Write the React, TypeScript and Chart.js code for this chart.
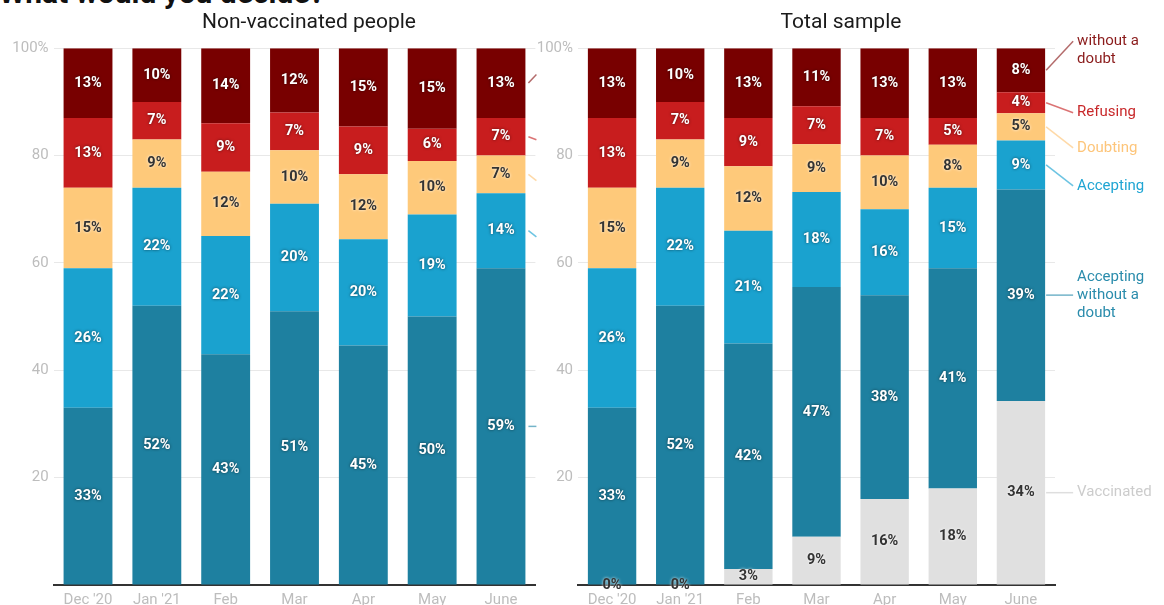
import React, { useEffect, useRef } from "react";
import { Chart, registerables } from "chart.js";

Chart.register(...registerables);

// ---------- data ----------
const months = ["Dec '20", "Jan '21", "Feb", "Mar", "Apr", "May", "June"];
const yTickLabels = ["", "20", "40", "60", "80", "100%"];

// Non-vaccinated people (bottom -> top)
const nvAcceptNoDoubt = [33, 52, 43, 51, 44.6, 50, 59];
const nvAccept = [26, 22, 22, 20, 19.8, 19, 14];
const nvDoubt = [15, 9, 12, 10, 12.1, 10, 7];
const nvRefuse = [13, 7, 9, 7, 8.9, 6, 7];
const nvRefuseNoDoubt = [13, 10, 14, 12, 14.6, 15, 13];

// Total sample (bottom -> top)
const tVaccinated = [0, 0, 3, 9, 16, 18, 34.3];
const tAcceptNoDoubt = [33, 52, 42, 46.5, 38, 41, 39.4];
const tAccept = [26, 22, 21, 17.7, 16, 15, 9.1];
const tDoubt = [15, 9, 12, 8.9, 10, 8, 5.1];
const tRefuse = [13, 7, 9, 7.1, 7, 5, 3.9];
const tRefuseNoDoubt = [13, 10, 13, 10.8, 13, 13, 8.2];

const seriesNames = {
  vaccinated: "Vaccinated",
  acceptNoDoubt: "Accepting without a doubt",
  accept: "Accepting",
  doubt: "Doubting",
  refuse: "Refusing",
  refuseNoDoubt: "Refusing without a doubt",
};

// ---------- styles ----------
const FONT = "Roboto, 'Noto Sans', Arial, sans-serif";
const colors: Record<string, string> = {
  vaccinated: "#e0e0e0",
  acceptNoDoubt: "#1e80a0",
  accept: "#1aa2cf",
  doubt: "#fec97a",
  refuse: "#c81d1e",
  refuseNoDoubt: "#780000",
};
const textColors: Record<string, string> = {
  vaccinated: "#cccccc",
  acceptNoDoubt: "#2a8cac",
  accept: "#1fa5d3",
  doubt: "#fdc57a",
  refuse: "#c8282a",
  refuseNoDoubt: "#8b1c1c",
};
const darkLabel: Record<string, boolean> = { vaccinated: true, doubt: true };

// legend annotation layout (label text lines, vertical nudge of the leader end, line anchored to the leader)
const legendItems: Record<string, { lines: string[]; dy: number; anchor: number }> = {
  vaccinated: { lines: ["Vaccinated"], dy: 0, anchor: 0 },
  acceptNoDoubt: { lines: ["Accepting", "without a", "doubt"], dy: 0, anchor: 1 },
  accept: { lines: ["Accepting"], dy: 21, anchor: 0 },
  doubt: { lines: ["Doubting"], dy: 21, anchor: 0 },
  refuse: { lines: ["Refusing"], dy: 10, anchor: 0 },
  refuseNoDoubt: { lines: ["without a", "doubt"], dy: -29, anchor: 0 },
};

const valueLabels = {
  id: "valueLabels",
  afterDatasetsDraw(chart: any) {
    const ctx = chart.ctx;
    ctx.save();
    ctx.font = `bold 14.5px ${FONT}`;
    ctx.textAlign = "center";
    ctx.textBaseline = "middle";
    chart.data.datasets.forEach((ds: any, i: number) => {
      const meta = chart.getDatasetMeta(i);
      const dark = darkLabel[ds.key];
      meta.data.forEach((bar: any, j: number) => {
        const v = ds.data[j];
        const p = bar.getProps(["x", "y", "base"], true);
        const my = (p.y + p.base) / 2;
        ctx.shadowColor = dark ? "rgba(255,255,255,0.95)" : "rgba(0,0,0,0.6)";
        ctx.shadowBlur = 3;
        ctx.fillStyle = dark ? "#333333" : "#ffffff";
        ctx.fillText(Math.round(v) + "%", p.x, my);
      });
    });
    ctx.restore();
  },
};

function makeSideLegend(showText: boolean) {
  return {
    id: "sideLegend",
    afterDraw(chart: any) {
      const ctx = chart.ctx;
      const area = chart.chartArea;
      ctx.save();
      chart.data.datasets.forEach((ds: any, i: number) => {
        const meta = chart.getDatasetMeta(i);
        const bar: any = meta.data[meta.data.length - 1];
        if (!bar) return;
        const p = bar.getProps(["x", "y", "base", "width"], true);
        const x0 = p.x + p.width / 2 + 1;
        const midY = (p.y + p.base) / 2;
        const item = legendItems[ds.key];
        const x1 = x0 + 27;
        const y1 = midY + item.dy;
        ctx.strokeStyle = textColors[ds.key];
        ctx.globalAlpha = 0.65;
        ctx.lineWidth = 1.5;
        ctx.beginPath();
        if (showText) {
          ctx.moveTo(x0, midY);
          ctx.lineTo(x1, y1);
        } else {
          const xe = area.right + 1;
          const t = (xe - (x0 + 2)) / 27;
          ctx.moveTo(x0 + 2, midY);
          ctx.lineTo(xe, midY + item.dy * t);
        }
        ctx.stroke();
        ctx.globalAlpha = 1;
        if (showText) {
          ctx.font = `15px ${FONT}`;
          ctx.fillStyle = textColors[ds.key];
          ctx.textAlign = "left";
          ctx.textBaseline = "middle";
          item.lines.forEach((ln, k) => {
            ctx.fillText(ln, x1 + 4, y1 + (k - item.anchor) * 18);
          });
        }
      });
      ctx.restore();
    },
  };
}

function buildConfig(
  title: string,
  series: { key: string; data: number[] }[],
  leftWidth: number,
  rightWidth: number,
  showLegendText: boolean
): any {
  return {
    type: "bar",
    data: {
      labels: months,
      datasets: series.map((s) => ({
        key: s.key,
        label: (seriesNames as any)[s.key],
        data: s.data,
        backgroundColor: colors[s.key],
        borderWidth: 0,
        barPercentage: 0.71,
        categoryPercentage: 1,
      })),
    },
    options: {
      responsive: false,
      animation: false,
      devicePixelRatio: 1,
      layout: { padding: 0 },
      plugins: {
        legend: { display: false },
        tooltip: { enabled: false },
        title: {
          display: true,
          text: title,
          color: "#1a1a1a",
          font: { family: FONT, size: 21, weight: "normal", lineHeight: 1.2 },
          padding: { top: 10, bottom: 13 },
        },
      },
      scales: {
        x: {
          stacked: true,
          grid: { display: false, drawTicks: false },
          border: { display: true, color: "#333333", width: 2 },
          ticks: {
            color: "#bdbdbd",
            font: { family: FONT, size: 15 },
            padding: 6,
            maxRotation: 0,
            autoSkip: false,
          },
        },
        y: {
          stacked: true,
          min: 0,
          max: 100,
          border: { display: false },
          grid: { color: "#e8e8e8", drawTicks: false },
          ticks: {
            stepSize: 20,
            padding: 5,
            color: "#bdbdbd",
            font: { family: FONT, size: 15 },
            callback: (_v: any, i: number) => yTickLabels[i],
          },
          afterFit: (s: any) => {
            s.width = leftWidth;
          },
        },
        r: {
          type: "linear",
          position: "right",
          display: true,
          grid: { display: false, drawTicks: false },
          border: { display: false },
          ticks: { display: false },
          afterFit: (s: any) => {
            s.width = rightWidth;
          },
        },
      },
    },
    plugins: [valueLabels, makeSideLegend(showLegendText)],
  };
}

function ChartCanvas(props: { config: () => any; left: number; width: number; height: number }) {
  const ref = useRef<HTMLCanvasElement | null>(null);
  useEffect(() => {
    if (!ref.current) return;
    const chart = new Chart(ref.current, props.config());
    return () => chart.destroy();
  }, []);
  return (
    <canvas
      ref={ref}
      width={props.width}
      height={props.height}
      style={{
        position: "absolute",
        left: props.left,
        top: 0,
        width: props.width,
        height: props.height,
        display: "block",
      }}
    />
  );
}

export default function App() {
  const leftConfig = () =>
    buildConfig(
      "Non-vaccinated people",
      [
        { key: "acceptNoDoubt", data: nvAcceptNoDoubt },
        { key: "accept", data: nvAccept },
        { key: "doubt", data: nvDoubt },
        { key: "refuse", data: nvRefuse },
        { key: "refuseNoDoubt", data: nvRefuseNoDoubt },
      ],
      53.6,
      82.6,
      false
    );
  const rightConfig = () =>
    buildConfig(
      "Total sample",
      [
        { key: "vaccinated", data: tVaccinated },
        { key: "acceptNoDoubt", data: tAcceptNoDoubt },
        { key: "accept", data: tAccept },
        { key: "doubt", data: tDoubt },
        { key: "refuse", data: tRefuse },
        { key: "refuseNoDoubt", data: tRefuseNoDoubt },
      ],
      60,
      109,
      true
    );
  return (
    <div
      style={{
        position: "fixed",
        left: 0,
        top: 0,
        width: 1164,
        height: 605,
        overflow: "hidden",
        background: "#ffffff",
      }}
    >
      <div
        style={{
          position: "absolute",
          left: -1,
          top: -24,
          fontFamily: FONT,
          fontWeight: "bold",
          fontSize: 30,
          lineHeight: "34px",
          color: "#111111",
          whiteSpace: "nowrap",
        }}
      >
        What would you decide?
      </div>
      <ChartCanvas config={leftConfig} left={0} width={618} height={615} />
      <ChartCanvas config={rightConfig} left={518} width={646} height={615} />
    </div>
  );
}
